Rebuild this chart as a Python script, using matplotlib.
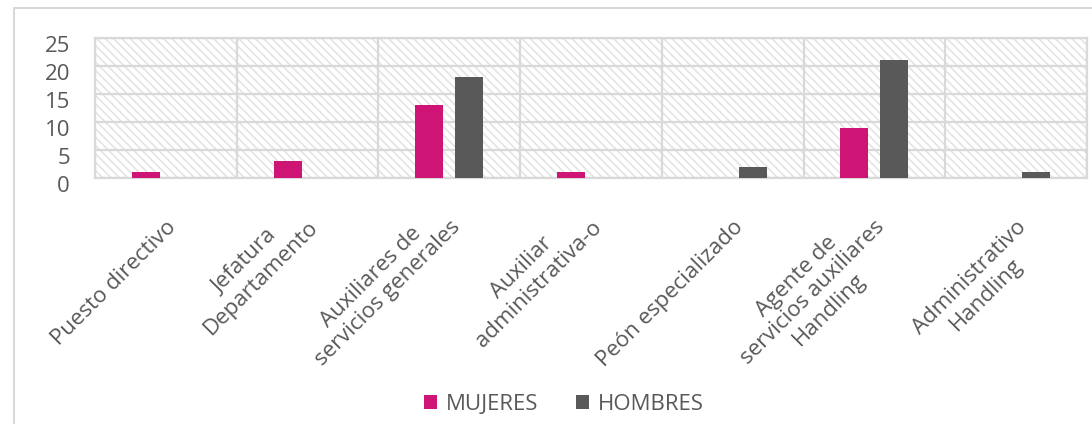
import matplotlib
matplotlib.use("Agg")
import matplotlib.pyplot as plt
import matplotlib.transforms as mtrans
import numpy as np
from matplotlib.patches import Rectangle

categories = ["Puesto directivo", "Jefatura\nDepartamento", "Auxiliares de\nservicios generales",
              "Auxiliar\nadministrativa-o", "Peón especializado",
              "Agente de\nservicios auxiliares\nHandling", "Administrativo\nHandling"]
mujeres = [1, 3, 13, 1, 0, 9, 0]
hombres = [0, 0, 18, 0, 2, 21, 1]
series_names = ["MUJERES", "HOMBRES"]
yticks = [0, 5, 10, 15, 20, 25]

plt.rcParams['font.family'] = ['Open Sans', 'DejaVu Sans']
plt.rcParams['hatch.linewidth'] = 1.2

fig = plt.figure(figsize=(10.92, 4.24), dpi=100)
fig.patches.append(Rectangle((14/1092, -0.1), 1.2, 1 - 8/424 + 0.1, transform=fig.transFigure,
                             facecolor='none', edgecolor='#d9d9d9', linewidth=1.5))
ax = fig.add_axes([95/1092, 1 - 178/424, (1087-95)/1092, (178-38)/424])

grid = '#d9d9d9'
n = len(categories)
x = np.arange(n)
ax.set_xlim(-0.5, n - 0.5)
ax.set_ylim(0, 25)

bg = Rectangle((0, 0), 1, 1, transform=ax.transAxes, facecolor='white', edgecolor='#e4e4e4',
               hatch='\\\\\\\\', linewidth=0, zorder=0)
ax.add_patch(bg)

for yv in yticks:
    ax.axhline(yv, color=grid, lw=1.6, zorder=1)
for b in np.arange(-0.5, n, 1.0):
    ax.axvline(b, color=grid, lw=1.6, zorder=1)

w = 0.198
off = 0.141
ax.bar(x - off, mujeres, w, color='#CE1474', zorder=3, label=series_names[0])
ax.bar(x + off, hombres, w, color='#595959', zorder=3, label=series_names[1])

for s in ax.spines.values():
    s.set_color(grid)
    s.set_linewidth(1.6)

ax.set_yticks(yticks)
ax.set_yticklabels([str(v) for v in yticks])
ax.tick_params(axis='y', length=0, pad=18, labelsize=16, labelcolor='#595959')
for lbl in ax.get_yticklabels():
    lbl.set_transform(lbl.get_transform() + mtrans.ScaledTranslation(0, -6/100, fig.dpi_scale_trans))

LS = 1.15
ax.set_xticks(x)
ax.set_xticklabels(categories, rotation=45, ha='right', va='top', rotation_mode='anchor',
                   multialignment='center', linespacing=LS)
ax.tick_params(axis='x', length=0, pad=28, labelsize=16, labelcolor='#595959')

# measure the line step so the longest line of each label ends at its tick
renderer = fig.canvas.get_renderer()
t1 = fig.text(0, 0, "lp", fontsize=16, linespacing=LS)
t2 = fig.text(0, 0, "lp\nlp", fontsize=16, linespacing=LS)
step_px = t2.get_window_extent(renderer).height - t1.get_window_extent(renderer).height
t1.remove(); t2.remove()
step_in = step_px / fig.dpi

for lbl, cat in zip(ax.get_xticklabels(), categories):
    lines = cat.split("\n")
    widths = []
    for ln in lines:
        tt = fig.text(0, 0, ln, fontsize=16)
        widths.append(tt.get_window_extent(renderer).width)
        tt.remove()
    idx = int(np.argmax(widths))
    d = idx * step_in * 0.7071
    lbl.set_transform(lbl.get_transform() + mtrans.ScaledTranslation(-d, d, fig.dpi_scale_trans))

leg = fig.legend(loc='center', bbox_to_anchor=(564/1092, 1 - 404/424), ncol=2, frameon=False,
                 fontsize=16, handlelength=0.6, handleheight=0.6, handletextpad=0.4,
                 columnspacing=1.7, labelcolor='#595959')

fig.savefig("out.png", dpi=100, facecolor='white')
